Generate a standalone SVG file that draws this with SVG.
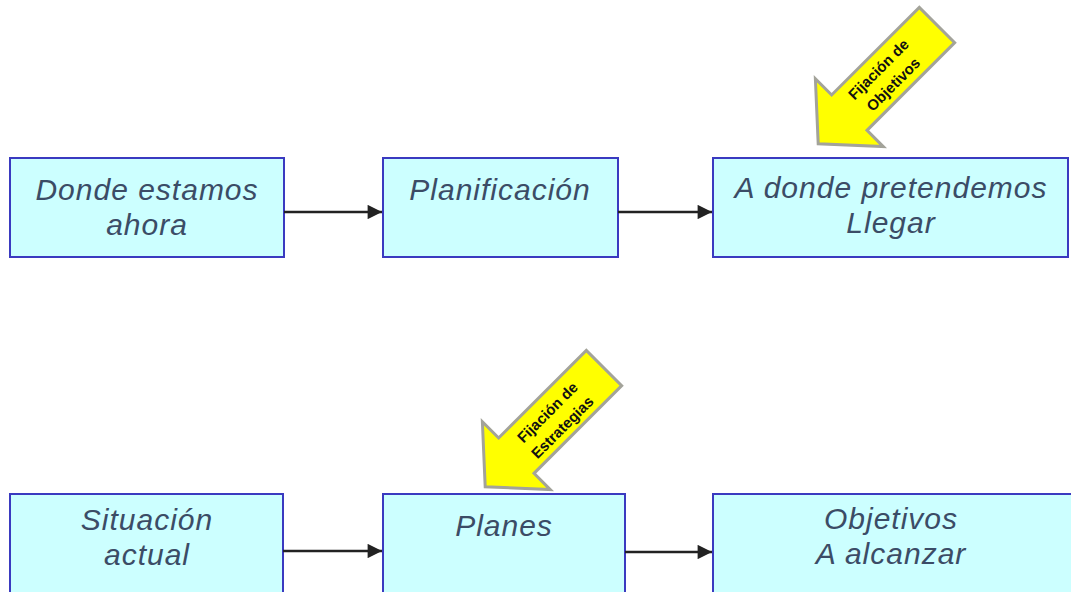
<svg xmlns="http://www.w3.org/2000/svg" width="1071" height="592" viewBox="0 0 1071 592">
  <defs>
    <style>
      .box { fill: #ccffff; stroke: #3a3ac0; stroke-width: 2; }
      .lbl { font-family: "Liberation Sans", Arial, sans-serif; font-style: italic; font-size: 30px; letter-spacing: 1px; fill: #3b4c66; text-anchor: middle; }
      .link { stroke: #222; stroke-width: 2.4; fill: none; marker-end: url(#head); }
      .callout { fill: #ffff00; stroke: #a3a39a; stroke-width: 3; stroke-linejoin: miter; }
      .ctext { font-family: "Liberation Sans", Arial, sans-serif; font-weight: bold; font-size: 15px; fill: #111; text-anchor: middle; }
    </style>
    <marker id="head" viewBox="0 0 10 10" refX="10" refY="5" markerWidth="6.5" markerHeight="6" orient="auto" markerUnits="strokeWidth">
      <path d="M0,0 L10,5 L0,10 z" fill="#222"/>
    </marker>
    <!-- block arrow, axis along +x, tail centre at origin -->
    <polygon id="blockArrow" points="0,-25 124,-25 124,-48 168,0 124,48 124,25 0,25"/>
  </defs>

  <rect width="1071" height="592" fill="#ffffff"/>

  <!-- top row -->
  <g id="n-donde">
    <rect class="box" x="10" y="158" width="274" height="99"/>
    <text class="lbl" x="147" y="200">Donde estamos</text>
    <text class="lbl" x="147" y="235">ahora</text>
  </g>
  <g id="n-planificacion">
    <rect class="box" x="383" y="158" width="235" height="99"/>
    <text class="lbl" x="500" y="200">Planificación</text>
  </g>
  <g id="n-pretendemos">
    <rect class="box" x="713" y="158" width="355" height="99"/>
    <text class="lbl" x="891" y="198">A donde pretendemos</text>
    <text class="lbl" x="891" y="233">Llegar</text>
  </g>

  <!-- bottom row -->
  <g id="n-situacion">
    <rect class="box" x="10" y="494" width="273" height="110"/>
    <text class="lbl" x="147" y="530">Situación</text>
    <text class="lbl" x="147" y="565">actual</text>
  </g>
  <g id="n-planes">
    <rect class="box" x="383" y="494" width="242" height="110"/>
    <text class="lbl" x="504" y="536">Planes</text>
  </g>
  <g id="n-objetivos">
    <rect class="box" x="713" y="494" width="360" height="110"/>
    <text class="lbl" x="891" y="529">Objetivos</text>
    <text class="lbl" x="891" y="564">A alcanzar</text>
  </g>

  <!-- callout arrows -->
  <g id="c-objetivos">
    <use href="#blockArrow" class="callout" transform="translate(937,25) rotate(135)"/>
    <g transform="translate(885,76) rotate(-45)">
      <text class="ctext" x="0" y="-4">Fijación de</text>
      <text class="ctext" x="0" y="17">Objetivos</text>
    </g>
  </g>
  <g id="c-estrategias">
    <use href="#blockArrow" class="callout" transform="translate(604,368) rotate(135)"/>
    <g transform="translate(554,419) rotate(-45)">
      <text class="ctext" x="0" y="-4">Fijación de</text>
      <text class="ctext" x="0" y="17">Estrategias</text>
    </g>
  </g>

  <!-- connectors -->
  <g id="connectors">
    <line class="link" x1="284" y1="212" x2="382" y2="212"/>
    <line class="link" x1="618" y1="212" x2="712" y2="212"/>
    <line class="link" x1="283" y1="551" x2="382" y2="551"/>
    <line class="link" x1="625" y1="552" x2="712" y2="552"/>
  </g>
</svg>
